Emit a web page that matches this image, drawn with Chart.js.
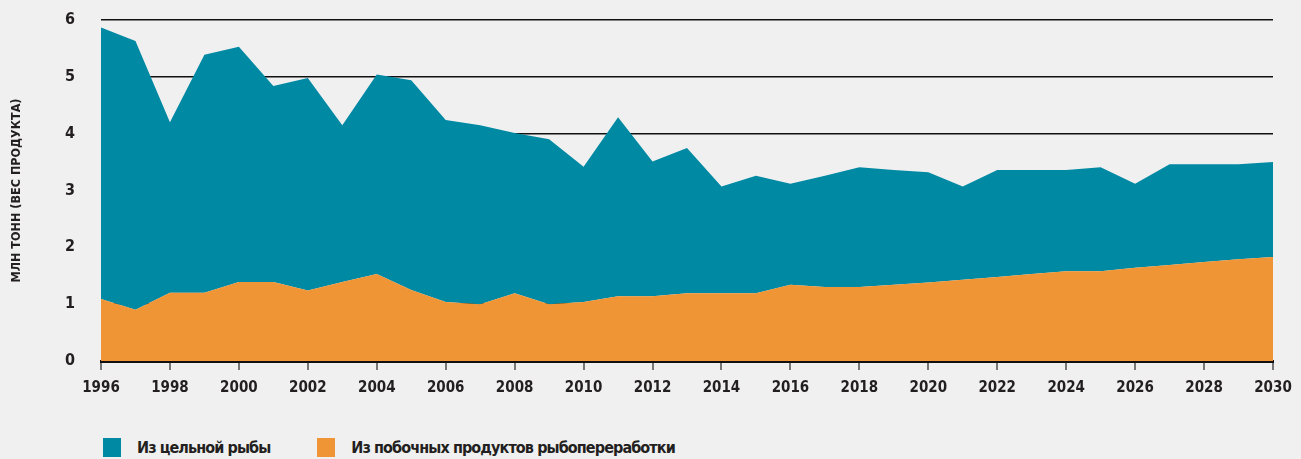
<!DOCTYPE html>
<html>
<head>
<meta charset="utf-8">
<script src="https://cdn.jsdelivr.net/npm/chart.js@4"></script>
<style>
  body { margin: 0; background: #f0f0f0; }
  .wrap { position: relative; width: 1301px; height: 459px; }
  .legend { position: absolute; top: 438px; left: 103px; display: flex; align-items: center;
    font: bold 16px 'DejaVu Sans Condensed', sans-serif; letter-spacing: -0.9px; color: #231f20; }
  .legend span.box { display: inline-block; width: 18px; height: 19px; margin-right: 16px; }
  .legend .item { display: flex; align-items: center; margin-right: 47px; }
</style>
</head>
<body>
<div class="wrap">
  <canvas id="fishChart" width="1301" height="420"></canvas>
  <div class="legend">
    <div class="item"><span class="box" style="background:#0089a3"></span>Из цельной рыбы</div>
    <div class="item"><span class="box" style="background:#f09535"></span>Из побочных продуктов рыбопереработки</div>
  </div>
</div>
<script>
// years 1996..2030
var years = [1996, 1997, 1998, 1999, 2000, 2001, 2002, 2003, 2004, 2005, 2006, 2007,
  2008, 2009, 2010, 2011, 2012, 2013, 2014, 2015, 2016, 2017, 2018, 2019, 2020,
  2021, 2022, 2023, 2024, 2025, 2026, 2027, 2028, 2029, 2030];

// million tonnes, product weight
var byProducts = [1.09, 0.90, 1.20, 1.20, 1.39, 1.39, 1.24, 1.39, 1.53, 1.25, 1.04, 1.00,
  1.19, 1.00, 1.04, 1.14, 1.14, 1.19, 1.19, 1.19, 1.34, 1.30, 1.30, 1.34, 1.38,
  1.43, 1.48, 1.53, 1.58, 1.58, 1.64, 1.69, 1.74, 1.79, 1.83];

var wholeFish = [4.78, 4.73, 3.00, 4.19, 4.14, 3.45, 3.74, 2.76, 3.51, 3.69, 3.20, 3.15,
  2.82, 2.90, 2.38, 3.15, 2.37, 2.56, 1.88, 2.07, 1.78, 1.96, 2.11, 2.02, 1.94,
  1.64, 1.88, 1.83, 1.78, 1.83, 1.48, 1.77, 1.72, 1.67, 1.67];

var yTicks = [0, 1, 2, 3, 4, 5, 6];

var fontFamily = "'DejaVu Sans Condensed', sans-serif";

var ctx = document.getElementById('fishChart').getContext('2d');
new Chart(ctx, {
  type: 'line',
  data: {
    labels: years,
    datasets: [{
      label: 'Из побочных продуктов рыбопереработки',
      data: byProducts,
      backgroundColor: '#f09535',
      borderWidth: 0,
      pointRadius: 0,
      fill: 'origin'
    }, {
      label: 'Из цельной рыбы',
      data: wholeFish,
      backgroundColor: '#0089a3',
      borderWidth: 0,
      pointRadius: 0,
      fill: '-1'
    }]
  },
  options: {
    responsive: false,
    animation: false,
    layout: { padding: { top: 20, right: 28, bottom: 0, left: 0 } },
    plugins: {
      legend: { display: false },
      tooltip: { enabled: false }
    },
    scales: {
      x: {
        z: 1,
        offset: false,
        border: { color: '#111', width: 3 },
        grid: {
          drawOnChartArea: false,
          tickLength: 9,
          lineWidth: 2,
          color: function(c) { return c.index % 2 === 0 ? '#777' : 'rgba(0,0,0,0)'; }
        },
        ticks: {
          autoSkip: false,
          maxRotation: 0,
          padding: 9,
          color: '#231f20',
          font: { family: fontFamily, size: 15, weight: 'bold' },
          callback: function(v, i) { return i % 2 === 0 ? years[i] : ''; }
        },
        afterFit: function(scale) { scale.height = 59; }
      },
      y: {
        stacked: true,
        min: 0,
        max: 6,
        border: { display: false },
        grid: { color: '#111', lineWidth: 1.5, drawTicks: false },
        afterBuildTicks: function(scale) {
          scale.ticks = yTicks.map(function(v) { return { value: v }; });
        },
        ticks: {
          padding: 26,
          color: '#231f20',
          font: { family: fontFamily, size: 16, weight: 'bold' }
        },
        title: {
          display: true,
          text: 'МЛН ТОНН (ВЕС ПРОДУКТА)',
          color: '#231f20',
          padding: { top: 9, bottom: 0 },
          font: { family: fontFamily, size: 12.5, weight: 'bold' }
        },
        afterFit: function(scale) {
          // fixed axis width; the label padding shouldn't push the plot down
          scale.width = 101;
          scale.paddingTop = 0;
          scale.paddingBottom = 0;
        }
      }
    }
  }
});
</script>
</body>
</html>
